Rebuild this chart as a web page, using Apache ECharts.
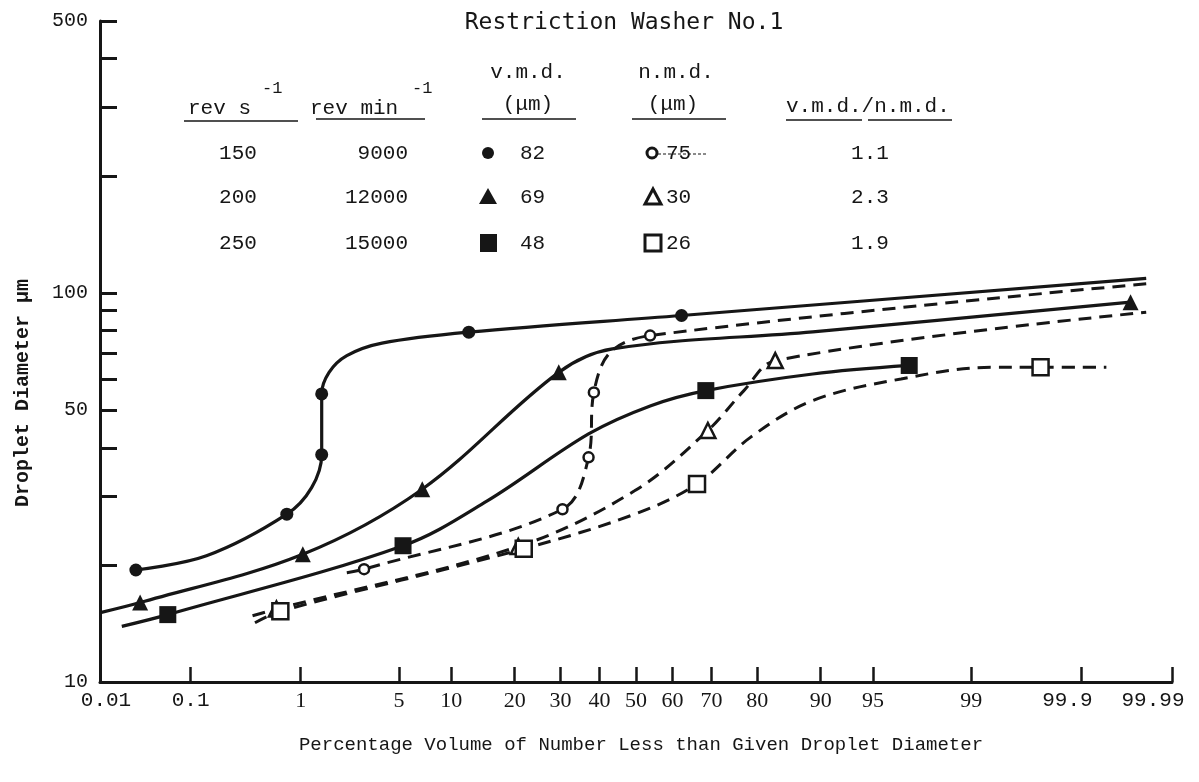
<!DOCTYPE html>
<html><head><meta charset="utf-8">
<script src="https://cdn.jsdelivr.net/npm/echarts@6/dist/echarts.min.js"></script>
<style>html,body{margin:0;padding:0;background:#fff}#c{width:1199px;height:782px}</style>
</head><body><div id="c"></div>
<script>
// ---------- data ----------
const xTickPercents = [0.01, 0.1, 1, 5, 10, 20, 30, 40, 50, 60, 70, 80, 90, 95, 99, 99.9, 99.99];
const xTickLabels = ['0.01', '0.1', '1', '5', '10', '20', '30', '40', '50', '60', '70', '80', '90', '95', '99', '99.9', '99.99'];
const yTickValues = [20, 30, 40, 50, 60, 70, 80, 90, 100, 200, 300, 400, 500];
const yLabelValues = [10, 50, 100, 500];

// [percentage, droplet diameter µm]
const vmd150Path = [[0.026,19.4],[0.144,21.1],[0.77,27.0],[1.22,31.6],[1.46,38.4],[1.46,55.0],[1.66,62.5],[2.24,69.0],[3.9,74.3],[12.3,79.3],[62.4,87.5],[99.98,109]];
const vmd150Marks = [[0.026,19.4],[0.77,27.0],[1.46,38.4],[1.46,55.0],[12.3,79.3],[62.4,87.5]];
const vmd200Path = [[0.0104,15.1],[0.029,16.0],[1.04,21.3],[6.9,31.3],[29.6,62.5],[43.5,71.8],[89,79.4],[99.97,94.7]];
const vmd200Marks = [[0.029,16.0],[1.04,21.3],[6.9,31.3],[29.6,62.5],[99.97,94.7]];
const vmd250Path = [[0.018,13.9],[0.058,14.9],[5.3,22.4],[15.1,29.2],[37.1,43.4],[54.1,51.3],[68.6,56.1],[89,61.9],[97.1,65.1]];
const vmd250Marks = [[0.058,14.9],[5.3,22.4],[68.6,56.1],[97.1,65.1]];
const nmd150Path = [[2.24,19.1],[2.96,19.5],[30.5,27.8],[37.1,37.8],[38.5,55.5],[42.9,70.3],[53.9,77.7],[99.98,105.6]];
const nmd150Marks = [[2.96,19.5],[30.5,27.8],[37.1,37.8],[38.5,55.5],[53.9,77.7]];
const nmd200Path = [[0.39,14.8],[0.63,15.4],[20.7,22.3],[49.6,31.0],[69.1,44.3],[77.3,56.1],[83.3,67.0],[99.98,89.2]];
const nmd200Marks = [[0.63,15.4],[20.7,22.3],[69.1,44.3],[83.3,67.0]];
const nmd250Path = [[0.41,14.2],[0.68,15.2],[21.8,22.0],[49.6,27.0],[66.4,32.3],[78.7,42.6],[89,52.9],[96.7,60.1],[99.31,64.4],[99.75,64.4],[99.945,64.4]];
const nmd250Marks = [[0.68,15.2],[21.8,22.0],[66.4,32.3],[99.75,64.4]];

// table
const tableRevS = ['150', '200', '250'];
const tableRevMin = ['9000', '12000', '15000'];
const tableVmd = ['82', '69', '48'];
const tableNmd = ['75', '30', '26'];
const tableRatio = ['1.1', '2.3', '1.9'];

// ---------- normal probability scale ----------
function probit(p) {
  const a=[-3.969683028665376e+01,2.209460984245205e+02,-2.759285104469687e+02,1.383577518672690e+02,-3.066479806614716e+01,2.506628277459239e+00];
  const b=[-5.447609879822406e+01,1.615858368580409e+02,-1.556989798598866e+02,6.680131188771972e+01,-1.328068155288572e+01];
  const c=[-7.784894002430293e-03,-3.223964580411365e-01,-2.400758277161838e+00,-2.549732539343734e+00,4.374664141464968e+00,2.938163982698783e+00];
  const d=[7.784695709041462e-03,3.224671290700398e-01,2.445134137142996e+00,3.754408661907416e+00];
  const pl = 0.02425, ph = 1 - pl;
  let q, r;
  if (p < pl) { q = Math.sqrt(-2*Math.log(p)); return (((((c[0]*q+c[1])*q+c[2])*q+c[3])*q+c[4])*q+c[5])/((((d[0]*q+d[1])*q+d[2])*q+d[3])*q+1); }
  if (p <= ph) { q = p-0.5; r = q*q; return (((((a[0]*r+a[1])*r+a[2])*r+a[3])*r+a[4])*r+a[5])*q/(((((b[0]*r+b[1])*r+b[2])*r+b[3])*r+b[4])*r+1); }
  q = Math.sqrt(-2*Math.log(1-p)); return -(((((c[0]*q+c[1])*q+c[2])*q+c[3])*q+c[4])*q+c[5])/((((d[0]*q+d[1])*q+d[2])*q+d[3])*q+1);
}
const zp = pct => probit(pct / 100);
const toZ = arr => arr.map(([p, dd]) => [zp(p), dd]);
const xTickZ = xTickPercents.map(zp);
const X_MIN = xTickZ[0], X_MAX = xTickZ[xTickZ.length - 1];

function xLabel(v) {
  let best = 0;
  xTickZ.forEach((z, i) => { if (Math.abs(z - v) < Math.abs(xTickZ[best] - v)) best = i; });
  const t = xTickLabels[best];
  if (t === '0.01') return '{a|' + t + '}';
  if (t === '0.1') return '{m|' + t + '}';
  if (t === '99.9') return '{b|' + t + '}';
  if (t === '99.99') return '{c|' + t + '}';
  return '{s|' + t + '}';
}

const INK = '#161616';
const MONO = 'Liberation Mono';
const lineS = (data, dashed) => ({
  type: 'line', data: toZ(data), smooth: 0.35, symbol: 'none', silent: true,
  lineStyle: { color: INK, width: dashed ? 3 : 3.2, type: dashed ? [13, 8] : 'solid' }, z: 2
});
const markS = (data, symbol, size, filled) => ({
  type: 'scatter', data: toZ(data), symbol, symbolSize: size, silent: true, z: 3,
  itemStyle: filled ? { color: INK, opacity: 1 } : { color: '#fff', borderColor: INK, borderWidth: 2.5, opacity: 1 }
});

// ---------- table graphics ----------
const g = [];
const txt = (x, y, text, opts = {}) => g.push({
  type: 'text', x, y, silent: true,
  style: Object.assign({ text, fill: INK, font: (opts.weight || '') + ' ' + (opts.size || 21) + 'px "' + (opts.family || MONO) + '"',
    textAlign: opts.align || 'left', textVerticalAlign: 'middle' }, opts.style || {})
});
const hline = (x1, x2, y, w = 1.5, dash) => g.push({
  type: 'line', silent: true, shape: { x1, y1: y, x2, y2: y },
  style: { stroke: INK, lineWidth: w, lineDash: dash || null }
});
txt(624, 23, 'Restriction Washer No.1', { align: 'center', size: 23, family: 'DejaVu Sans Mono' });
// headers
txt(188, 108, 'rev s', {});
txt(262, 88, '-1', { size: 17 });
hline(184, 298, 121);
txt(310, 108, 'rev min', {});
txt(412, 88, '-1', { size: 17 });
hline(316, 425, 119);
txt(528, 72, 'v.m.d.', { align: 'center' });
txt(528, 104, '(μm)', { align: 'center' });
hline(482, 576, 119);
txt(676, 72, 'n.m.d.', { align: 'center' });
txt(673, 104, '(μm)', { align: 'center' });
hline(632, 726, 119);
txt(786, 106, 'v.m.d./n.m.d.', {});
hline(786, 862, 120);
hline(868, 952, 120);
const rowY = [153, 197, 243];
rowY.forEach((y, i) => {
  txt(238, y, tableRevS[i], { align: 'center' });
  txt(408, y, tableRevMin[i], { align: 'right' });
  txt(520, y, tableVmd[i], {});
  txt(666, y, tableNmd[i], {});
  txt(870, y, tableRatio[i], { align: 'center' });
});
// legend symbols
g.push({ type: 'circle', silent: true, shape: { cx: 488, cy: rowY[0], r: 6 }, style: { fill: INK } });
g.push({ type: 'polygon', silent: true, shape: { points: [[488, rowY[1]-9], [497, rowY[1]+7], [479, rowY[1]+7]] }, style: { fill: INK } });
g.push({ type: 'rect', silent: true, shape: { x: 480, y: rowY[2]-9, width: 17, height: 18 }, style: { fill: INK } });
g.push({ type: 'circle', silent: true, shape: { cx: 652, cy: rowY[0], r: 5 }, style: { fill: '#fff', stroke: INK, lineWidth: 3 } });
hline(658, 708, rowY[0] + 1, 1, [3, 2]);
g.push({ type: 'polygon', silent: true, shape: { points: [[653, rowY[1]-8], [661, rowY[1]+7], [645, rowY[1]+7]] }, style: { fill: '#fff', stroke: INK, lineWidth: 3 } });
g.push({ type: 'rect', silent: true, shape: { x: 645, y: rowY[2]-8, width: 16, height: 16 }, style: { fill: '#fff', stroke: INK, lineWidth: 3 } });
// axis titles
g.push({ type: 'text', silent: true, x: 23, y: 393, rotation: Math.PI / 2,
  style: { text: 'Droplet Diameter μm', fill: INK, font: 'bold 20px "' + MONO + '"', textAlign: 'center', textVerticalAlign: 'middle' } });
txt(641, 745, 'Percentage Volume of Number Less than Given Droplet Diameter', { align: 'center', size: 19 });

const chart = echarts.init(document.getElementById('c'), null, { renderer: 'canvas' });
chart.setOption({
  animation: false,
  backgroundColor: '#fff',
  grid: { left: 100, right: 27, top: 21, bottom: 100 },
  xAxis: {
    type: 'value', min: X_MIN, max: X_MAX,
    axisLine: { show: true, onZero: false, lineStyle: { color: INK, width: 3 } },
    axisTick: { show: true, customValues: xTickZ, inside: true, length: 15, lineStyle: { color: INK, width: 2.5 } },
    axisLabel: {
      customValues: xTickZ, formatter: xLabel, margin: 8, color: INK,
      rich: {
        s: { fontFamily: 'Liberation Serif', fontSize: 22, color: INK },
        m: { fontFamily: MONO, fontSize: 21, color: INK },
        a: { fontFamily: MONO, fontSize: 21, color: INK, padding: [0, 0, 0, 12] },
        b: { fontFamily: MONO, fontSize: 21, color: INK, padding: [0, 28, 0, 0] },
        c: { fontFamily: MONO, fontSize: 21, color: INK, padding: [0, 38, 0, 0] }
      }
    },
    splitLine: { show: false }
  },
  yAxis: {
    type: 'log', logBase: 10, min: 10, max: 500,
    axisLine: { show: true, onZero: false, lineStyle: { color: INK, width: 3 } },
    axisTick: { show: true, customValues: yTickValues, inside: true, length: 17, lineStyle: { color: INK, width: 3 } },
    axisLabel: { customValues: yLabelValues, fontFamily: MONO, fontSize: 20, color: INK, margin: 12 },
    splitLine: { show: false }, minorTick: { show: false }
  },
  series: [
    lineS(vmd150Path, false), lineS(vmd200Path, false), lineS(vmd250Path, false),
    lineS(nmd150Path, true), lineS(nmd200Path, true), lineS(nmd250Path, true),
    markS(vmd150Marks, 'circle', 13, true),
    markS(vmd200Marks, 'triangle', 16, true),
    markS(vmd250Marks, 'rect', 17, true),
    markS(nmd150Marks, 'circle', 10, false),
    markS(nmd200Marks, 'triangle', 15, false),
    markS(nmd250Marks, 'rect', 16, false)
  ],
  graphic: { elements: g }
});
</script></body></html>
